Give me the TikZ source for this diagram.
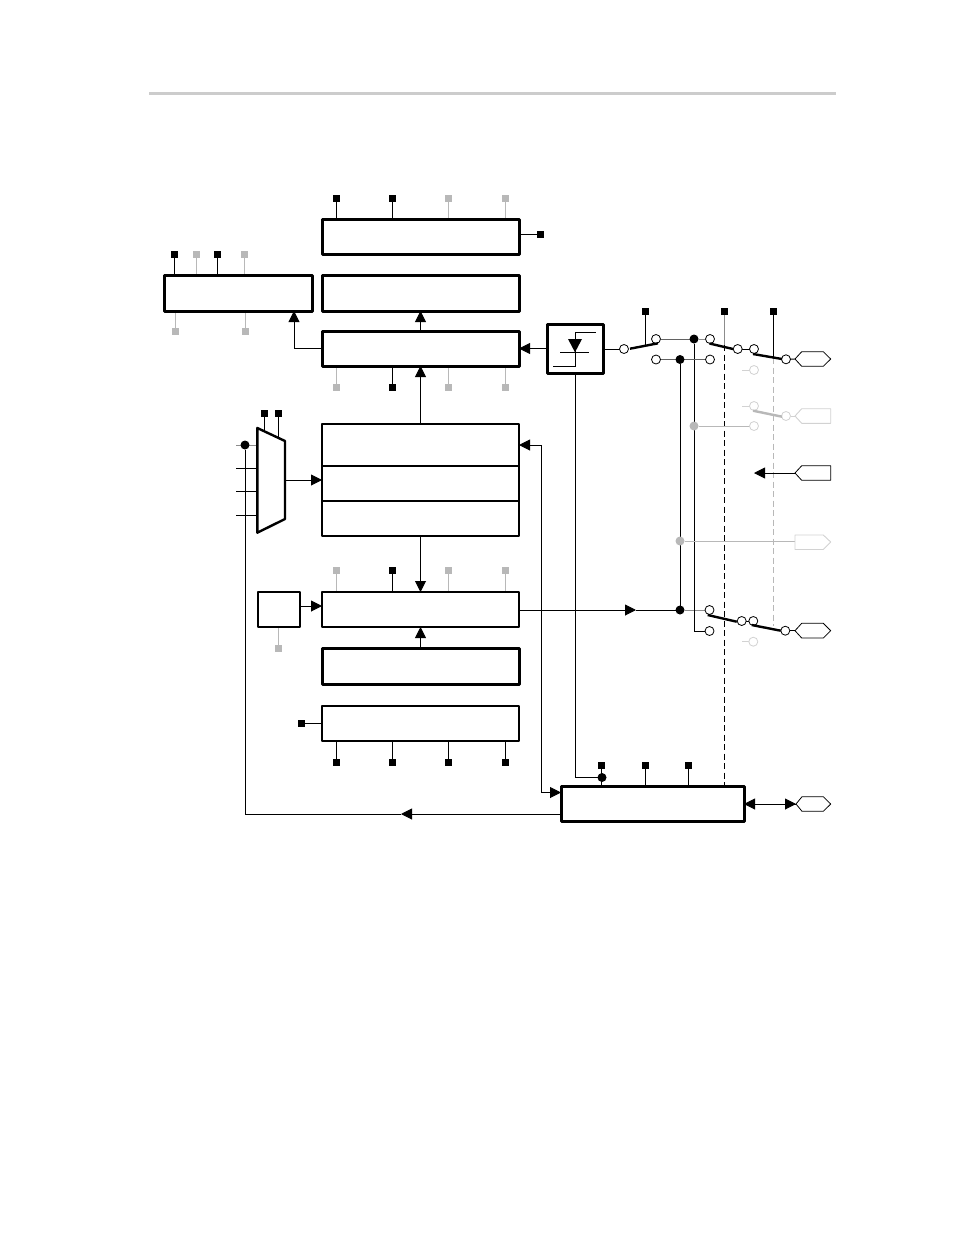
\documentclass[tikz,border=0pt]{standalone}
\usetikzlibrary{arrows.meta}
\pgfdeclarelayer{bg}
\pgfsetlayers{bg,main}
\definecolor{gA}{HTML}{B8B8B8}
\definecolor{gB}{HTML}{D2D2D2}
\definecolor{gC}{HTML}{8C8C8C}
\definecolor{gR}{HTML}{CCCCCC}
\tikzset{
  bx/.style={draw=black,fill=white,line width=3pt,inner sep=0pt,outer sep=0pt,line join=round},
  bxm/.style={draw=black,fill=white,line width=2.4pt,inner sep=0pt,outer sep=0pt,line join=round},
  sqk/.style={fill=black,inner sep=0pt,outer sep=0pt,minimum size=7pt},
  sqg/.style={fill=gA,inner sep=0pt,outer sep=0pt,minimum size=7pt},
  dotk/.style={circle,fill=black,inner sep=0pt,outer sep=0pt,minimum size=9pt},
  dotg/.style={circle,fill=gA,inner sep=0pt,outer sep=0pt,minimum size=9pt},
  cir/.style={circle,draw=black,fill=white,line width=0.8pt,inner sep=0pt,outer sep=0pt,minimum size=9pt},
  cirg/.style={circle,draw=gB,fill=white,line width=0.8pt,inner sep=0pt,outer sep=0pt,minimum size=9pt},
  ln/.style={line width=0.95pt,draw=black},
  lng/.style={line width=0.95pt,draw=gA},
  lnl/.style={line width=0.95pt,draw=gB},
  lnm/.style={line width=0.95pt,draw=gC},
  sw/.style={line width=2.4pt,draw=black},
  tip/.style={-{Triangle[length=11pt,width=11pt]}},
  pad/.style={line width=0.8pt,draw=black,fill=white,line join=round},
  padg/.style={line width=0.9pt,draw=gB,fill=white,line join=round},
}
\begin{document}
\begin{tikzpicture}[x=1pt,y=-1pt]
\useasboundingbox (0,0) rectangle (954,1235);
\begin{pgfonlayer}{bg}
\fill[white] (0,0) rectangle (954,1235);
\end{pgfonlayer}
\coordinate (rA) at (149,93); \coordinate (rB) at (836,93);
\draw[gR,line width=3pt] (rA) -- (rB);

% boxes
\node[bx,minimum width=197pt,minimum height=35pt] (A) at (420.5,236.5) {};
\node[bx,minimum width=197pt,minimum height=36pt] (B) at (420.5,293) {};
\node[bx,minimum width=197pt,minimum height=35pt] (C) at (420.5,348.5) {};
\node[bx,minimum width=148pt,minimum height=36pt] (L) at (238,293) {};
\node[bxm,minimum width=197pt,minimum height=42pt] (D1) at (420.5,445) {};
\node[bxm,minimum width=197pt,minimum height=35pt] (D2) at (420.5,483.5) {};
\node[bxm,minimum width=197pt,minimum height=35pt] (D3) at (420.5,518.5) {};
\node[bxm,minimum width=197pt,minimum height=35pt] (E) at (420.5,609.5) {};
\node[bx,minimum width=197pt,minimum height=36pt] (F) at (420.5,666) {};
\node[bxm,minimum width=197pt,minimum height=35pt] (G) at (420.5,723.5) {};
\node[bxm,minimum width=42pt,minimum height=35pt] (S) at (279,609.5) {};
\node[bx,minimum width=56pt,minimum height=49pt] (T) at (575,348.5) {};
\node[bx,minimum width=183pt,minimum height=35.5pt] (H) at (652.5,804) {};

% squares
\foreach \n/\x/\y/\s in {
 a1/336.5/198/sqk,a2/392.5/198/sqk,a3/448.5/198/sqg,a4/505.5/198/sqg,ar/540.5/234.5/sqk,
 l1/174.5/254.5/sqk,l2/196.5/254.5/sqg,l3/217.5/254.5/sqk,l4/244.5/254.5/sqg,
 l5/175.5/331/sqg,l6/245.5/331/sqg,
 c1/336.5/387/sqg,c2/392.5/387/sqk,c3/448.5/387/sqg,c4/505.5/387/sqg,
 m1/264.5/413.5/sqk,m2/278.5/413.5/sqk,
 e1/336.5/570/sqg,e2/392.5/570/sqk,e3/448.5/570/sqg,e4/505.5/570/sqg,
 s1/278.5/648.5/sqg,gl/301.5/723/sqk,
 g1/336.5/762/sqk,g2/392.5/762/sqk,g3/448.5/762/sqk,g4/505.5/762/sqk,
 h1/601.5/765/sqk,h2/645.5/765/sqk,h3/688.5/765/sqk,
 p1/645/311.5/sqk,p2/724/311.5/sqk,p3/773/311.5/sqk}
 {\node[\s] (\n) at (\x,\y) {};}

% mux
\coordinate (mTL) at (257.3,428); \coordinate (mTR) at (285,441);
\coordinate (mBR) at (285,519); \coordinate (mBL) at (257.3,532.7);
\draw[line width=2.4pt,fill=white,line join=round] (mTL) -- (mTR) -- (mBR) -- (mBL) -- cycle;
\coordinate (mOut) at (285,480);
\coordinate (i1) at (236,445); \coordinate (i2) at (236,468); \coordinate (i3) at (236,491.5); \coordinate (i4) at (236,515.5);
\coordinate (j1) at (257.3,445); \coordinate (j2) at (257.3,468); \coordinate (j3) at (257.3,491.5); \coordinate (j4) at (257.3,515.5);
\coordinate (m1b) at (264.5,431.4); \coordinate (m2b) at (278.5,438);

% Schmitt symbol
\coordinate (t1) at (553,366); \coordinate (t2) at (575,366); \coordinate (t3) at (575,332); \coordinate (t4) at (596,332);
\coordinate (t5) at (560,352.3); \coordinate (t6) at (589,352.3);
\coordinate (t7) at (568,339); \coordinate (t8) at (582,339); \coordinate (t9) at (575,352.3);
\draw[ln] (t1) -- (t2) -- (t3) -- (t4);
\draw[ln] (t5) -- (t6);
\fill (t7) -- (t8) -- (t9) -- cycle;

% dots and terminals
\node[dotk] (dM) at (245,445) {};
\node[dotk] (dH) at (602,777.5) {};
\node[dotk] (d1) at (694,339) {};
\node[dotk] (d2) at (680,359.5) {};
\node[dotk] (d3) at (680,610) {};
\node[dotg] (d4) at (694,426) {};
\node[dotg] (d5) at (680,541) {};
\node[cir] (o0) at (624,349) {};
\node[cir] (o1) at (656,339) {};
\node[cir] (o2) at (710,339) {};
\node[cir] (o3) at (656,359.5) {};
\node[cir] (o4) at (710,359.5) {};
\node[cir] (o5) at (737.7,349) {};
\node[cir] (o6) at (754,349) {};
\node[cir] (o7) at (786,359.3) {};
\node[cirg] (o8) at (754,370) {};
\node[cirg] (o9) at (754,406) {};
\node[cirg] (o10) at (786,416) {};
\node[cirg] (o11) at (754,426) {};
\node[cir] (o12) at (709.5,610) {};
\node[cir] (o13) at (709.5,631) {};
\node[cir] (o14) at (741.7,621) {};
\node[cir] (o15) at (753.3,621) {};
\node[cir] (o16) at (785.3,630.7) {};
\node[cirg] (o17) at (753.3,641.7) {};

% pads
\draw[pad] (795,359) -- (801.7,351.7) -- (823.3,351.7) -- (830.7,359) -- (823.3,366.3) -- (801.7,366.3) -- cycle;
\coordinate (pa) at (795,359);
\draw[padg] (795,416) -- (801.7,408.7) -- (830.7,408.7) -- (830.7,423.3) -- (801.7,423.3) -- cycle;
\coordinate (pb) at (795,416);
\draw[pad] (795,473) -- (801.7,465.7) -- (830.7,465.7) -- (830.7,480.3) -- (801.7,480.3) -- cycle;
\coordinate (pc) at (795,473);
\draw[padg] (795,535) -- (823.3,535) -- (830.7,542) -- (823.3,549.5) -- (795,549.5) -- cycle;
\coordinate (pd) at (795,541);
\draw[pad] (795,630.7) -- (801.7,623.3) -- (823.3,623.3) -- (830.7,630.7) -- (823.3,638) -- (801.7,638) -- cycle;
\coordinate (pe) at (795,630.7);
\draw[pad] (796,804) -- (802,796.7) -- (823.3,796.7) -- (830.7,804) -- (823.3,811.3) -- (802,811.3) -- cycle;
\coordinate (pf) at (796,804);

% switch arms
\draw[sw] (630,348.7) -- (658,343.3);
\draw[sw] (709.5,343.5) -- (733,349);
\draw[sw] (753,354) -- (782,359);
\draw[line width=2.4pt,gA] (753,410.7) -- (782,416.7);
\draw[sw] (707.7,615) -- (736.7,621.7);
\draw[sw] (751.7,625) -- (780.7,630.7);

\begin{pgfonlayer}{bg}
% top stubs
\foreach \n/\s in {a1/ln,a2/ln,a3/lng,a4/lng}{\draw[\s] (\n) -- (\n |- A.north);}
\draw[ln] (A.east |- ar) -- (ar);
\foreach \n/\s in {l1/ln,l2/lng,l3/ln,l4/lng}{\draw[\s] (\n) -- (\n |- L.north);}
\foreach \n/\s in {l5/lng,l6/lng}{\draw[\s] (\n) -- (\n |- L.south);}
\foreach \n/\s in {c1/lng,c2/ln,c3/lng,c4/lng}{\draw[\s] (\n) -- (\n |- C.south);}
\foreach \n/\s in {e1/lng,e2/ln,e3/lng,e4/lng}{\draw[\s] (\n) -- (\n |- E.north);}
\foreach \n in {g1,g2,g3,g4}{\draw[ln] (\n) -- (\n |- G.south);}
\draw[lng] (s1) -- (s1 |- S.south);
\draw[ln] (gl) -- (gl -| G.west);
\draw[ln] (m1) -- (m1b);
\draw[ln] (m2) -- (m2b);
\foreach \n in {h2,h3}{\draw[ln] (\n) -- (\n |- H.north);}
\draw[ln] (h1) -- (h1 |- H.north);
% inputs of the mux
\draw[lnm] (i1) -- (j1);
\draw[ln] (i2) -- (j2);
\draw[ln] (i3) -- (j3);
\draw[ln] (i4) -- (j4);
% arrows between blocks
\draw[ln,tip] (mOut) -- (mOut -| D2.west);
\draw[ln,tip] (C.west) -- (294,348.5) -- (294,311);
\draw[ln,tip] (C.north) -- (B.south);
\draw[ln,tip] (D1.north) -- (C.south);
\draw[ln,tip] (D3.south) -- (E.north);
\draw[ln,tip] (F.north) -- (E.south);
\draw[ln,tip] (T.west) -- (C.east);
\draw[ln,tip] (S.east |- 0,606) -- (E.west |- 0,606);
\draw[ln,tip] (541,445) -- (D1.east |- 0,445);
\draw[ln,tip] (541,445) -- (541,792.5) -- (H.west |- 0,792.5);
\draw[ln,tip] (H.west |- 0,814) -- (401,814);
\draw[ln] (401,814) -- (245,814) -- (dM);
\draw[ln] (T.south) -- (T.south |- dH) -- (dH);
% output path
\draw[ln,tip] (E.east |- d3) -- (636,610);
\draw[ln] (636,610) -- (d3);
\draw[lnm] (d3) -- (o12);
\draw[ln] (d3) -- (d2);
\draw[ln] (d1) -- (694,631) -- (o13);
\draw[ln] (T.east |- o0) -- (o0);
% switch rows
\draw[line width=0.95pt,draw=gC!70!black] (o1) -- (d1);
\draw[lnm] (d1) -- (o2);
\draw[line width=0.95pt,draw=gC!70!black] (o3) -- (o4);
\draw[ln] (p1) -- (p1 |- 0,345);
\draw[lnm] (p2) -- (p2 |- 0,345);
\draw[ln,dash pattern=on 6pt off 3.5pt] (p2 |- 0,345) -- (p2 |- H.north);
\draw[ln] (p3) -- (p3 |- 0,358);
\draw[lng,dash pattern=on 6pt off 3.5pt] (p3 |- 0,358) -- (p3 |- 0,626);
\draw[ln] (o5) -- (o6);
\draw[ln] (o7) -- (pa);
\draw[ln] (o14) -- (o15);
\draw[ln] (o16) -- (pe);
\draw[lnl] (o10) -- (pb);
\draw[lnl] (742,370) -- (o8);
\draw[lnl] (742,406) -- (o9);
\draw[lnl] (742,641.7) -- (o17);
\draw[lng] (d4) -- (o11);
\draw[lng] (d5) -- (pd);
\draw[ln,tip] (pc) -- (754,473);
\draw[ln,tip] (pf |- H.east) -- (H.east);
\draw[ln,tip] (H.east) -- (pf);
\end{pgfonlayer}
\end{tikzpicture}
\end{document}
